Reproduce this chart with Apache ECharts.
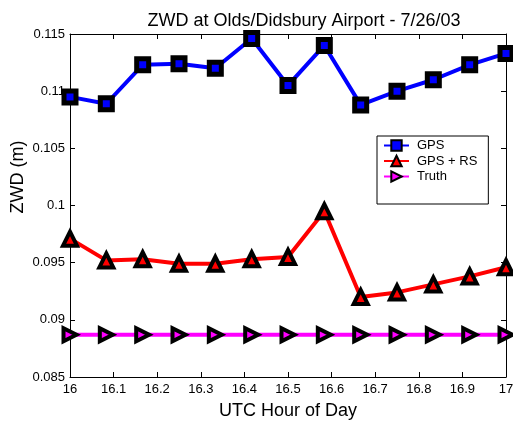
<!DOCTYPE html>
<html>
<head>
<meta charset="utf-8">
<script src="https://cdn.jsdelivr.net/npm/echarts@6/dist/echarts.min.js"></script>
<style>
  html, body { margin: 0; padding: 0; background: #fff; }
  #chart { width: 513px; height: 423px; }
</style>
</head>
<body>
<div id="chart"></div>
<script>
// hours (UTC), every 5 minutes
const hours = [16, 16.0833, 16.1667, 16.25, 16.3333, 16.4167, 16.5, 16.5833, 16.6667, 16.75, 16.8333, 16.9167, 17]
const gps = [0.1095, 0.1089, 0.1123, 0.1124, 0.1120, 0.1146, 0.1105, 0.1140, 0.1088, 0.1100, 0.1110, 0.1123, 0.1133]
const gpsRs = [0.0971, 0.0952, 0.0953, 0.0949, 0.0949, 0.0953, 0.0955, 0.0995, 0.0920, 0.0924, 0.0931, 0.0938, 0.0946]
const truth = [0.0887, 0.0887, 0.0887, 0.0887, 0.0887, 0.0887, 0.0887, 0.0887, 0.0887, 0.0887, 0.0887, 0.0887, 0.0887]
const seriesNames = ['GPS', 'GPS + RS', 'Truth']

function pairs(ys) {
  return hours.map((h, i) => [h, ys[i]])
}

const font = 'Liberation Sans, Arial, sans-serif'
let myChart = echarts.init(document.getElementById('chart'))

let option = {
  animation: false,
  backgroundColor: '#fff',
  title: {
    text: 'ZWD at Olds/Didsbury Airport - 7/26/03',
    left: 299,
    top: 7,
    textAlign: 'center',
    textStyle: { fontFamily: font, fontSize: 18, fontWeight: 'normal', color: '#000' }
  },
  // y axis label sits a bit above the axis centre, like the original
  graphic: [
    {
      type: 'text',
      x: 18,
      y: 177,
      rotation: Math.PI / 2,
      style: {
        text: 'ZWD (m)',
        fontFamily: font,
        fontSize: 18,
        fill: '#000',
        align: 'center',
        verticalAlign: 'middle'
      }
    }
  ],
  grid: { left: 70, right: 7, top: 34, bottom: 46, outerBoundsMode: 'none', containLabel: false },
  legend: {
    orient: 'vertical',
    left: 377,
    top: 136,
    padding: [3, 11, 21, 6],
    itemGap: 2.5,
    itemWidth: 25,
    itemHeight: 13,
    backgroundColor: '#fff',
    borderColor: '#000',
    borderWidth: 1,
    borderRadius: 0,
    data: seriesNames,
    textStyle: { fontFamily: font, fontSize: 13, color: '#000', padding: [0, 0, 0, 3] }
  },
  xAxis: [
    {
      type: 'value',
      min: 16,
      max: 17,
      interval: 0.1,
      axisLine: { onZero: false, lineStyle: { color: '#000', width: 1 } },
      axisTick: { inside: true, length: 5, lineStyle: { color: '#000' } },
      axisLabel: {
        fontFamily: font, fontSize: 13, color: '#000', margin: 6,
        formatter: v => +v.toFixed(1) + ''
      },
      splitLine: { show: false },
      name: 'UTC Hour of Day',
      nameLocation: 'middle',
      nameGap: 25,
      nameTextStyle: { fontFamily: font, fontSize: 18, color: '#000' }
    },
    {
      type: 'value',
      position: 'top',
      min: 16,
      max: 17,
      interval: 0.1,
      axisLine: { onZero: false, lineStyle: { color: '#000', width: 1 } },
      axisTick: { inside: true, length: 5, lineStyle: { color: '#000' } },
      axisLabel: { show: false },
      splitLine: { show: false }
    }
  ],
  yAxis: [
    {
      type: 'value',
      min: 0.085,
      max: 0.115,
      interval: 0.005,
      axisLine: { show: true, onZero: false, lineStyle: { color: '#000', width: 1 } },
      axisTick: { show: true, inside: true, length: 5, lineStyle: { color: '#000' } },
      axisLabel: {
        fontFamily: font, fontSize: 13, color: '#000', margin: 5,
        formatter: v => +v.toFixed(3) + ''
      },
      splitLine: { show: false }
    },
    {
      type: 'value',
      position: 'right',
      min: 0.085,
      max: 0.115,
      interval: 0.005,
      axisLine: { show: true, onZero: false, lineStyle: { color: '#000', width: 1 } },
      axisTick: { show: true, inside: true, length: 5, lineStyle: { color: '#000' } },
      axisLabel: { show: false },
      splitLine: { show: false }
    }
  ],
  series: [
    {
      name: 'GPS',
      type: 'line',
      data: pairs(gps),
      symbol: 'rect',
      symbolSize: 12,
      lineStyle: { color: '#0000ff', width: 4 },
      itemStyle: { color: '#0000ff', borderColor: '#000', borderWidth: 5 },
      z: 3
    },
    {
      name: 'GPS + RS',
      type: 'line',
      data: pairs(gpsRs),
      symbol: 'triangle',
      symbolSize: 14,
      lineStyle: { color: '#ff0000', width: 4 },
      itemStyle: { color: '#ff0000', borderColor: '#000', borderWidth: 4 },
      z: 3
    },
    {
      name: 'Truth',
      type: 'line',
      data: pairs(truth),
      symbol: 'triangle',
      symbolRotate: -90,
      symbolSize: 13,
      lineStyle: { color: '#ff00ff', width: 4 },
      itemStyle: { color: '#ff00ff', borderColor: '#000', borderWidth: 4 },
      z: 3
    }
  ]
}

myChart.setOption(option)
</script>
</body>
</html>
